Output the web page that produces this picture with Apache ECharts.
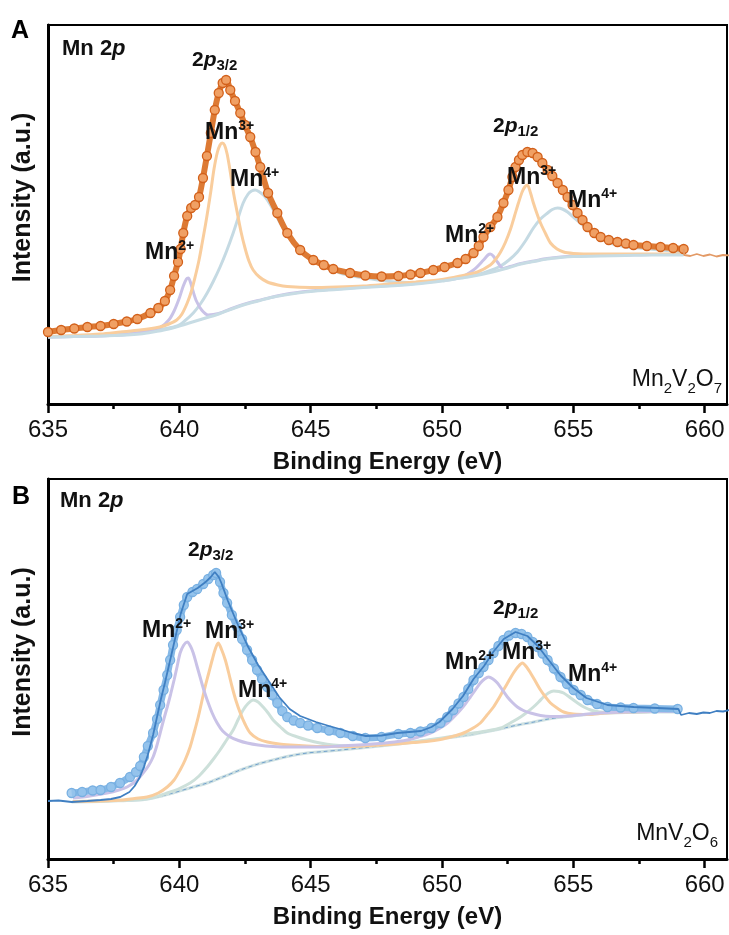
<!DOCTYPE html>
<html>
<head>
<meta charset="utf-8">
<script src="https://cdn.jsdelivr.net/npm/echarts@6/dist/echarts.min.js"></script>
<style>
  html, body { margin: 0; padding: 0; background: #fff; }
  #chart { width: 729px; height: 935px; }
</style>
</head>
<body>
<div id="chart"></div>
<script>
// x axis ticks (binding energy, eV)
const xTicks = [635, 640, 645, 650, 655, 660];
const xMinor = [637.5, 642.5, 647.5, 652.5, 657.5];

// ---- panel A : Mn2V2O7 ----  [eV, intensity a.u.]
const aEnv = [[635.0,72],[635.5,74],[636.0,75.5],[636.5,77],[637.0,78],[637.5,80],[638.0,82.5],[638.4,85],[638.9,91],[639.2,96],[639.45,103],[639.65,114],[639.8,128],[639.95,142],[640.05,155],[640.15,171],[640.3,188],[640.45,196],[640.6,199],[640.75,207],[640.9,226],[641.05,248],[641.2,271],[641.35,294],[641.5,311],[641.65,321],[641.78,324],[641.94,314],[642.12,303],[642.32,291],[642.5,279],[642.7,267],[642.9,252],[643.08,237],[643.38,211],[643.73,191],[644.11,171],[644.6,154],[645.1,144],[645.5,139],[645.86,135],[646.5,131],[647.08,128.5],[647.7,127.5],[648.34,128],[648.8,129.5],[649.18,131],[649.67,134],[650.1,137],[650.59,141],[650.9,145],[651.2,151],[651.4,158],[651.58,167],[651.84,177],[652.11,187],[652.34,201],[652.53,214],[652.68,227],[652.8,237],[652.93,244],[653.06,249],[653.25,252],[653.45,251],[653.64,247],[653.82,241],[654.02,234],[654.2,228],[654.4,221],[654.6,214],[654.78,207],[654.97,199],[655.16,191],[655.35,184],[655.54,177],[655.8,171],[656.04,167],[656.35,164],[656.68,162],[657.0,160.5],[657.29,159],[657.8,158],[658.32,157],[658.8,156],[659.2,155]];
const aRaw = [[659.2,155],[659.22,149],[659.45,148],[659.7,150],[659.95,148],[660.2,149.5],[660.45,147.5],[660.7,149],[660.95,148.5]];
const aBg = [[635.0,67],[636.0,67.5],[637.0,68],[638.0,69],[638.5,70],[639.0,72],[639.5,74.5],[640.0,78],[640.5,82],[641.0,86],[641.5,90],[642.0,95],[642.5,99.5],[643.0,103],[643.5,106.5],[644.0,109],[644.5,111],[645.0,112.5],[646.0,114.5],[647.0,116.5],[648.0,118],[649.0,120],[650.0,123],[650.5,125],[651.0,127],[651.5,129.5],[652.0,132.5],[652.5,136],[653.0,140],[653.5,142.5],[654.0,145],[654.5,146.5],[655.0,147.5],[656.0,148],[657.0,148.5],[658.0,149],[659.2,149]];
const aMn2 = [[635.0,67],[636.0,67.5],[637.0,68],[638.0,69.5],[638.8,73],[639.3,77],[639.6,84],[639.8,93],[640.0,106],[640.15,118],[640.27,125],[640.34,126],[640.42,122],[640.52,113],[640.65,103],[640.85,94],[641.1,89],[641.5,90.5],[642.0,95.5],[642.5,100],[643.0,103.5],[644.0,109.5],[645.0,113],[646.0,115],[647.0,117],[648.0,118.5],[649.0,120.5],[650.0,123.5],[650.7,126.5],[651.2,134],[651.58,144],[651.75,149],[651.84,150],[651.95,148],[652.11,142],[652.34,135.5],[652.6,137.5],[653.0,140.5],[653.5,143],[654.0,145.5],[655.0,148],[656.0,148.5],[657.0,149],[658.0,149.5],[659.2,149.5]];
const aMn3 = [[635.0,67.5],[636.0,68.5],[637.0,70],[637.75,72],[638.5,74],[639.25,77],[639.6,80],[639.9,84],[640.1,90],[640.3,101],[640.45,112],[640.6,127],[640.75,144],[640.87,161],[641.0,180],[641.1,196],[641.2,213],[641.32,235],[641.45,252],[641.55,259],[641.63,261],[641.72,259],[641.82,250],[641.94,232],[642.05,213],[642.2,192],[642.35,172],[642.5,156],[642.65,143],[642.81,134],[643.05,127],[643.35,122],[643.75,119],[644.11,117.5],[645.0,116.5],[646.0,117],[647.0,118],[648.0,120],[649.0,122],[650.0,124.5],[650.7,128],[651.35,132],[651.84,139],[652.05,145],[652.23,152],[652.42,162],[652.61,175],[652.76,188],[652.91,201],[653.05,212],[653.15,217],[653.25,219],[653.37,211],[653.48,201],[653.62,190],[653.75,181],[653.95,170],[654.13,161],[654.38,155],[654.63,152],[655.0,150.5],[655.39,150],[656.5,150],[657.3,150],[658.3,150],[659.2,150]];
const aMn4 = [[635.0,67],[636.0,67.5],[637.0,68.5],[638.0,70],[638.8,72.5],[639.4,75],[639.92,78],[640.2,83],[640.53,91],[640.8,100],[641.06,111],[641.3,123],[641.55,137],[641.8,153],[642.05,171],[642.25,187],[642.43,201],[642.62,210],[642.75,213],[642.89,214],[643.05,212],[643.2,209],[643.35,204],[643.6,193],[643.84,181],[644.1,170],[644.34,161],[644.6,153],[644.87,147],[645.25,141],[645.63,137],[646.13,131],[646.6,128],[647.08,126],[648.0,122.5],[649.0,121.5],[650.0,124],[650.8,127.5],[651.2,128.5],[651.58,131],[651.9,134],[652.23,138],[652.55,144],[652.87,152],[653.2,164],[653.48,176],[653.75,185],[654.02,191],[654.2,194.5],[654.4,196],[654.58,195],[654.78,192],[655.0,187],[655.27,181],[655.5,176],[655.77,171],[656.04,166],[656.3,162],[656.68,159],[657.07,157],[657.7,155.5],[658.32,154],[658.8,153],[659.2,152]];

// ---- panel B : MnV2O6 ----
const bEnv = [[635.9,66],[636.3,67],[636.7,68.5],[637.0,69],[637.4,72],[637.74,76],[638.12,82],[638.35,87],[638.51,93],[638.65,102],[638.8,113],[639.0,126],[639.15,140],[639.27,154],[639.4,169],[639.54,184],[639.65,199],[639.76,214],[639.9,229],[640.03,242],[640.17,254],[640.3,262],[640.5,267],[640.68,270],[640.91,275],[641.1,280],[641.29,284],[641.4,286],[641.55,277],[641.68,266],[641.82,256],[642.0,244],[642.2,232],[642.39,220],[642.58,209],[642.77,199],[642.96,189],[643.15,180],[643.35,172],[643.54,164],[643.73,156],[643.92,148],[644.11,142],[644.35,138.5],[644.6,136],[644.9,133.5],[645.25,131],[645.7,128.5],[646.13,126],[646.6,123],[647.08,121],[647.7,122],[648.34,125],[648.8,126],[649.18,127.5],[649.6,131],[649.94,136],[650.2,142],[650.43,149],[650.63,155.5],[650.82,162],[651.0,170],[651.2,179],[651.4,186],[651.58,192],[651.77,199],[651.96,206],[652.15,213],[652.34,219],[652.55,223.5],[652.8,226],[653.03,225],[653.25,222],[653.45,217],[653.64,212],[653.83,205.5],[654.02,199],[654.26,190.5],[654.51,182],[654.76,175],[655.01,169],[655.28,164],[655.54,159],[655.9,155],[656.3,152],[656.8,151.5],[657.29,151],[658.1,150.5],[658.97,150]];
const bRaw = [[635.0,58],[635.4,58.5],[635.9,57],[636.5,58],[637.0,59],[637.4,60],[637.75,62],[638.1,67],[638.3,73],[638.5,82],[638.65,92],[638.8,104],[639.0,124],[639.15,142],[639.3,160],[639.45,176],[639.6,193],[639.8,216],[640.05,245],[640.3,265],[640.5,268],[640.7,271],[641.0,277],[641.2,282],[641.35,287],[641.5,282],[641.6,276],[641.85,258],[642.2,236],[642.6,213],[643.0,194],[643.4,178],[643.8,162],[644.2,150],[644.6,143],[645.2,137],[645.7,133],[646.1,130],[646.6,126],[647.1,123],[647.7,123.5],[648.3,126],[649.2,128],[649.6,132],[649.9,137],[650.4,150],[650.8,163],[651.2,180],[651.6,193],[651.95,207],[652.35,220],[652.8,227],[653.25,223],[653.65,213],[654.0,201],[654.5,184],[655.0,171],[655.5,161],[656.3,154],[657.3,152],[658.2,151],[659.0,150],[659.1,144],[659.4,146],[659.7,145],[659.95,146.5],[660.2,146],[660.45,148],[660.7,147.5],[660.95,149]];
const bBg = [[635.9,57],[637.0,57.5],[638.0,58.5],[638.51,59],[639.0,61],[639.76,66],[640.4,71],[641.06,76],[641.7,82.5],[642.32,89],[643.0,95],[643.57,99],[644.2,103],[644.87,106],[645.5,107.5],[646.13,109],[647.08,111.5],[648.0,114],[649.0,117],[650.0,120.5],[651.0,124],[652.0,129],[652.8,133.5],[653.5,137],[654.05,140],[654.6,142],[655.3,144],[656.0,145.5],[657.0,146.5],[658.0,147],[658.97,147]];
const bMn2 = [[635.95,61],[636.6,63],[637.25,66],[637.7,69],[638.01,72],[638.35,78],[638.62,86],[638.82,93],[639.0,102],[639.14,113],[639.27,126],[639.4,139],[639.54,152],[639.67,165],[639.8,179],[639.92,193],[640.03,206],[640.17,214],[640.3,217],[640.42,213],[640.53,206],[640.66,194],[640.79,182],[640.92,170],[641.06,159],[641.25,146],[641.44,136],[641.65,128],[641.94,122],[642.25,118.5],[642.58,116],[643.0,114],[643.57,112.5],[644.2,112],[644.87,112],[645.5,112],[646.13,113],[647.08,114.5],[648.0,116.5],[648.68,119],[649.1,122],[649.56,126],[649.9,130.5],[650.21,136],[650.45,142],[650.7,149],[650.9,155.5],[651.08,162],[651.27,169],[651.46,176],[651.62,180],[651.77,182],[651.94,180],[652.11,176],[652.3,169],[652.49,162],[652.68,156.5],[652.87,152],[653.1,148.5],[653.37,146],[653.75,143.5],[654.13,142.5],[654.8,143],[655.39,144.5],[656.0,146],[657.0,147],[658.0,147.5],[658.97,147.5]];
const bMn3 = [[635.95,57.5],[637.0,58],[637.86,59],[638.3,60.5],[638.77,62],[639.2,66],[639.54,72],[639.8,79],[640.03,89],[640.22,99],[640.41,112],[640.57,127],[640.72,142],[640.85,157],[640.98,172],[641.12,186],[641.25,199],[641.37,210],[641.48,216],[641.6,210],[641.75,199],[641.88,186],[642.01,172],[642.16,158],[642.32,146],[642.5,135],[642.7,126],[643.0,120],[643.35,117],[643.8,115],[644.22,114],[644.85,113],[645.48,112.5],[646.2,112.5],[647.0,113],[648.0,114.5],[648.91,116.5],[649.4,117.5],[649.94,119.5],[650.4,122.5],[650.82,126],[651.15,130.5],[651.46,136],[651.7,143.5],[651.96,152],[652.15,160],[652.34,169],[652.53,177.5],[652.72,186],[652.9,192.5],[653.06,196],[653.22,192],[653.37,186],[653.56,177.5],[653.75,169],[653.94,162],[654.13,156],[654.38,151],[654.63,147],[655.0,145],[655.54,144.5],[656.2,146],[657.0,147],[658.0,147.5],[658.97,147.5]];
const bMn4 = [[635.95,57.5],[637.0,58],[638.51,59.5],[639.0,61.5],[639.54,66],[640.0,70.5],[640.41,76],[640.75,83],[641.06,92],[641.3,100],[641.55,109],[641.8,119],[642.05,129],[642.25,140],[642.43,149],[642.6,155],[642.81,159],[643.0,157],[643.19,152],[643.38,146],[643.57,139],[643.85,132],[644.11,126],[644.5,122],[644.87,119],[645.36,116],[645.86,114],[646.5,113],[647.1,113.5],[648.0,115],[649.0,117.5],[650.0,121],[650.7,124],[651.2,126],[651.7,128],[652.23,131],[652.6,136],[652.99,142],[653.25,147],[653.48,152],[653.68,157],[653.86,162],[654.05,166],[654.25,168],[654.45,167.5],[654.63,166],[654.9,161],[655.16,156],[655.4,152],[655.66,149],[656.0,147],[656.42,146.5],[657.2,146.5],[657.94,147.5],[658.97,148]];

const FONT = '"Liberation Sans", Arial, sans-serif';
const chart = echarts.init(document.getElementById('chart'), null, { renderer: 'canvas' });

// x axes: one with labels + major ticks, one with minor ticks only
const xMajor = (g) => ({
    type: 'value', gridIndex: g, min: 635, max: 660.85,
    axisLine: { show: true, onZero: false, lineStyle: { color: '#000', width: 3 } },
    axisTick: { show: true, customValues: xTicks, length: 9, lineStyle: { color: '#000', width: 2.5 } },
    axisLabel: { show: true, customValues: xTicks, fontSize: 24, color: '#111', margin: 14, fontFamily: FONT },
    splitLine: { show: false },
    name: 'Binding Energy (eV)', nameLocation: 'middle', nameGap: 46,
    nameTextStyle: { fontSize: 24, fontWeight: 'bold', color: '#111', fontFamily: FONT }
});
const xMinorAxis = (g) => ({
    type: 'value', gridIndex: g, min: 635, max: 660.85, position: 'bottom',
    axisLine: { show: false, onZero: false },
    axisTick: { show: true, customValues: xMinor, length: 5, lineStyle: { color: '#000', width: 2.5 } },
    axisLabel: { show: false },
    splitLine: { show: false }
});
const yAx = (g, max) => ({
    type: 'value', gridIndex: g, min: 0, max: max,
    axisLine: { show: true, onZero: false, lineStyle: { color: '#000', width: 3 } },
    axisTick: { show: false }, axisLabel: { show: false }, splitLine: { show: false },
    name: 'Intensity (a.u.)', nameLocation: 'middle', nameGap: 12,
    nameTextStyle: { fontSize: 25, fontWeight: 'bold', color: '#111', fontFamily: FONT, padding: [0, 0, 0, 34] }
});

const curve = (data, color, xi, yi, width, z, extra) => Object.assign({
    type: 'line', xAxisIndex: xi, yAxisIndex: yi, data: data,
    smooth: 0.3, showSymbol: false, symbol: 'none',
    lineStyle: { color: color, width: width }, z: z, silent: true
}, extra || {});

// measured points: thick band plus circle markers
const points = (data, xi, yi, fill, edge, band, bandWidth) => ({
    type: 'line', xAxisIndex: xi, yAxisIndex: yi, data: data,
    smooth: 0.3, symbol: 'circle', symbolSize: 9, showSymbol: true, showAllSymbol: true,
    lineStyle: { color: band, width: bandWidth },
    itemStyle: { color: fill, borderColor: edge, borderWidth: 1.3 },
    z: 6, silent: true
});

// annotation text helpers
const supRich = {
    m: { fontSize: 23, fontWeight: 'bold', fontFamily: FONT, color: '#111', lineHeight: 27 },
    s: { fontSize: 14, fontWeight: 'bold', fontFamily: FONT, color: '#111', lineHeight: 14, verticalAlign: 'top' }
};
const subRich = {
    m: { fontSize: 21, fontWeight: 'bold', fontFamily: FONT, color: '#111', lineHeight: 27 },
    i: { fontSize: 21, fontWeight: 'bold', fontStyle: 'italic', fontFamily: FONT, color: '#111', lineHeight: 27 },
    s: { fontSize: 15, fontWeight: 'bold', fontFamily: FONT, color: '#111', lineHeight: 14, verticalAlign: 'bottom' }
};
const formRich = {
    m: { fontSize: 23, fontFamily: FONT, color: '#111', lineHeight: 33 },
    s: { fontSize: 15, fontFamily: FONT, color: '#111', lineHeight: 15, verticalAlign: 'bottom' }
};
const titleRich = {
    m: { fontSize: 22, fontWeight: 'bold', fontFamily: FONT, color: '#111' },
    i: { fontSize: 22, fontWeight: 'bold', fontStyle: 'italic', fontFamily: FONT, color: '#111' }
};
const txt = (x, y, text, rich, align) => ({
    type: 'text', x: x, y: y, z: 50, silent: true,
    style: { text: text, rich: rich, fill: '#111', align: align || 'left', verticalAlign: 'middle',
             textAlign: align || 'left', textVerticalAlign: 'middle' }
});
const ion = (x, y, n) => txt(x, y, '{m|Mn}{s|' + n + '+}', supRich);
const orbital = (x, y, j) => txt(x, y, '{m|2}{i|p}{s|' + j + '}', subRich);
const letter = (x, y, t) => ({
    type: 'text', x: x, y: y, z: 50, silent: true,
    style: { text: t, fill: '#000', font: 'bold 25px ' + FONT, align: 'left', verticalAlign: 'middle',
             textAlign: 'left', textVerticalAlign: 'middle' }
});

chart.setOption({
    animation: false,
    backgroundColor: '#fff',
    grid: [
        { left: 48, right: 2, top: 25, height: 379, show: true, borderColor: '#000', borderWidth: 2, backgroundColor: 'transparent' },
        { left: 48, right: 2, top: 479, height: 380, show: true, borderColor: '#000', borderWidth: 2, backgroundColor: 'transparent' }
    ],
    xAxis: [xMajor(0), xMinorAxis(0), xMajor(1), xMinorAxis(1)],
    yAxis: [yAx(0, 379), yAx(1, 380)],
    series: [
        // panel A
        curve(aMn4, '#c5dae3', 0, 0, 3, 3),
        curve(aMn3, '#f9cd9d', 0, 0, 3, 4),
        curve(aMn2, '#c9c2e7', 0, 0, 3, 3.5),
        curve(aBg, '#c7dce4', 0, 0, 3, 4.5),
        points(aEnv, 0, 0, '#f0a064', '#d2601a', '#dd7a34', 6),
        curve(aRaw, '#e39a66', 0, 0, 1.8, 7, { smooth: false }),
        // panel B
        curve(bBg, '#cfe1e2', 2, 1, 3, 2),
        curve(bBg, '#4a86c5', 2, 1, 1, 2.5, { lineStyle: { color: '#4a86c5', width: 1, type: [4, 3], opacity: 0.7 } }),
        curve(bMn4, '#cde0da', 2, 1, 3, 3),
        curve(bMn3, '#f9cd9d', 2, 1, 3, 4),
        curve(bMn2, '#c9c2e7', 2, 1, 3, 5),
        points(bEnv, 2, 1, 'rgba(150,196,236,0.85)', '#78b0e2', '#86b9e7', 7),
        curve(bRaw, '#3f7fc2', 2, 1, 1.8, 7, { smooth: false })
    ],
    graphic: [
        letter(11, 31, 'A'),
        txt(62, 49, '{m|Mn 2}{i|p}', titleRich),
        orbital(192, 60, '3/2'),
        ion(205, 133, 3),
        ion(230, 180, 4),
        ion(145, 253, 2),
        orbital(493, 126, '1/2'),
        ion(507, 178, 3),
        ion(568, 201, 4),
        ion(445, 236, 2),
        txt(722, 380, '{m|Mn}{s|2}{m|V}{s|2}{m|O}{s|7}', formRich, 'right'),

        letter(12, 497, 'B'),
        txt(60, 501, '{m|Mn 2}{i|p}', titleRich),
        orbital(188, 550, '3/2'),
        ion(142, 631, 2),
        ion(205, 632, 3),
        ion(238, 691, 4),
        orbital(493, 608, '1/2'),
        ion(445, 663, 2),
        ion(502, 653, 3),
        ion(568, 675, 4),
        txt(718, 834, '{m|MnV}{s|2}{m|O}{s|6}', formRich, 'right')
    ]
});
</script>
</body>
</html>
